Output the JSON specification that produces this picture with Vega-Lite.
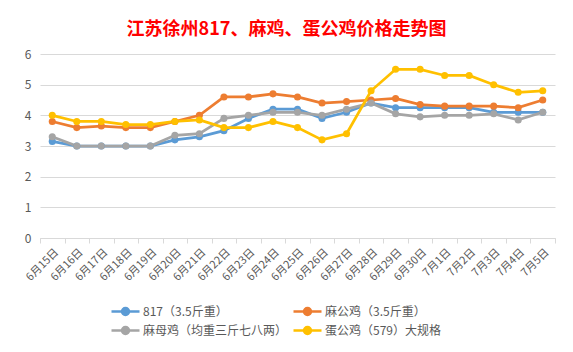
{
  "$schema": "https://vega.github.io/schema/vega-lite/v6.json",
  "autosize": {"type": "none"},
  "width": 515,
  "height": 184,
  "padding": {"left": 40, "top": 54, "right": 18, "bottom": 114},
  "background": "white",
  "title": {
    "text": "江苏徐州817、麻鸡、蛋公鸡价格走势图",
    "color": "#FF0000",
    "fontSize": 18,
    "fontWeight": "bold",
    "font": "Noto Sans CJK SC",
    "anchor": "middle",
    "dx": -11,
    "offset": 9
  },
  "config": {
    "font": "Noto Sans CJK SC",
    "view": {"stroke": null}
  },
  "data": {
    "values": [
      {"date": "6月15日", "series": "817（3.5斤重）", "value": 3.15},
      {"date": "6月16日", "series": "817（3.5斤重）", "value": 3.0},
      {"date": "6月17日", "series": "817（3.5斤重）", "value": 3.0},
      {"date": "6月18日", "series": "817（3.5斤重）", "value": 3.0},
      {"date": "6月19日", "series": "817（3.5斤重）", "value": 3.0},
      {"date": "6月20日", "series": "817（3.5斤重）", "value": 3.2},
      {"date": "6月21日", "series": "817（3.5斤重）", "value": 3.3},
      {"date": "6月22日", "series": "817（3.5斤重）", "value": 3.5},
      {"date": "6月23日", "series": "817（3.5斤重）", "value": 3.9},
      {"date": "6月24日", "series": "817（3.5斤重）", "value": 4.2},
      {"date": "6月25日", "series": "817（3.5斤重）", "value": 4.2},
      {"date": "6月26日", "series": "817（3.5斤重）", "value": 3.9},
      {"date": "6月27日", "series": "817（3.5斤重）", "value": 4.1},
      {"date": "6月28日", "series": "817（3.5斤重）", "value": 4.4},
      {"date": "6月29日", "series": "817（3.5斤重）", "value": 4.25},
      {"date": "6月30日", "series": "817（3.5斤重）", "value": 4.25},
      {"date": "7月1日", "series": "817（3.5斤重）", "value": 4.25},
      {"date": "7月2日", "series": "817（3.5斤重）", "value": 4.25},
      {"date": "7月3日", "series": "817（3.5斤重）", "value": 4.1},
      {"date": "7月4日", "series": "817（3.5斤重）", "value": 4.1},
      {"date": "7月5日", "series": "817（3.5斤重）", "value": 4.1},
      {"date": "6月15日", "series": "麻公鸡（3.5斤重）", "value": 3.8},
      {"date": "6月16日", "series": "麻公鸡（3.5斤重）", "value": 3.6},
      {"date": "6月17日", "series": "麻公鸡（3.5斤重）", "value": 3.65},
      {"date": "6月18日", "series": "麻公鸡（3.5斤重）", "value": 3.6},
      {"date": "6月19日", "series": "麻公鸡（3.5斤重）", "value": 3.6},
      {"date": "6月20日", "series": "麻公鸡（3.5斤重）", "value": 3.8},
      {"date": "6月21日", "series": "麻公鸡（3.5斤重）", "value": 4.0},
      {"date": "6月22日", "series": "麻公鸡（3.5斤重）", "value": 4.6},
      {"date": "6月23日", "series": "麻公鸡（3.5斤重）", "value": 4.6},
      {"date": "6月24日", "series": "麻公鸡（3.5斤重）", "value": 4.7},
      {"date": "6月25日", "series": "麻公鸡（3.5斤重）", "value": 4.6},
      {"date": "6月26日", "series": "麻公鸡（3.5斤重）", "value": 4.4},
      {"date": "6月27日", "series": "麻公鸡（3.5斤重）", "value": 4.45},
      {"date": "6月28日", "series": "麻公鸡（3.5斤重）", "value": 4.5},
      {"date": "6月29日", "series": "麻公鸡（3.5斤重）", "value": 4.55},
      {"date": "6月30日", "series": "麻公鸡（3.5斤重）", "value": 4.35},
      {"date": "7月1日", "series": "麻公鸡（3.5斤重）", "value": 4.3},
      {"date": "7月2日", "series": "麻公鸡（3.5斤重）", "value": 4.3},
      {"date": "7月3日", "series": "麻公鸡（3.5斤重）", "value": 4.3},
      {"date": "7月4日", "series": "麻公鸡（3.5斤重）", "value": 4.25},
      {"date": "7月5日", "series": "麻公鸡（3.5斤重）", "value": 4.5},
      {"date": "6月15日", "series": "麻母鸡（均重三斤七八两）", "value": 3.3},
      {"date": "6月16日", "series": "麻母鸡（均重三斤七八两）", "value": 3.0},
      {"date": "6月17日", "series": "麻母鸡（均重三斤七八两）", "value": 3.0},
      {"date": "6月18日", "series": "麻母鸡（均重三斤七八两）", "value": 3.0},
      {"date": "6月19日", "series": "麻母鸡（均重三斤七八两）", "value": 3.0},
      {"date": "6月20日", "series": "麻母鸡（均重三斤七八两）", "value": 3.35},
      {"date": "6月21日", "series": "麻母鸡（均重三斤七八两）", "value": 3.4},
      {"date": "6月22日", "series": "麻母鸡（均重三斤七八两）", "value": 3.9},
      {"date": "6月23日", "series": "麻母鸡（均重三斤七八两）", "value": 4.0},
      {"date": "6月24日", "series": "麻母鸡（均重三斤七八两）", "value": 4.1},
      {"date": "6月25日", "series": "麻母鸡（均重三斤七八两）", "value": 4.1},
      {"date": "6月26日", "series": "麻母鸡（均重三斤七八两）", "value": 4.0},
      {"date": "6月27日", "series": "麻母鸡（均重三斤七八两）", "value": 4.2},
      {"date": "6月28日", "series": "麻母鸡（均重三斤七八两）", "value": 4.4},
      {"date": "6月29日", "series": "麻母鸡（均重三斤七八两）", "value": 4.05},
      {"date": "6月30日", "series": "麻母鸡（均重三斤七八两）", "value": 3.95},
      {"date": "7月1日", "series": "麻母鸡（均重三斤七八两）", "value": 4.0},
      {"date": "7月2日", "series": "麻母鸡（均重三斤七八两）", "value": 4.0},
      {"date": "7月3日", "series": "麻母鸡（均重三斤七八两）", "value": 4.05},
      {"date": "7月4日", "series": "麻母鸡（均重三斤七八两）", "value": 3.85},
      {"date": "7月5日", "series": "麻母鸡（均重三斤七八两）", "value": 4.1},
      {"date": "6月15日", "series": "蛋公鸡（579）大规格", "value": 4.0},
      {"date": "6月16日", "series": "蛋公鸡（579）大规格", "value": 3.8},
      {"date": "6月17日", "series": "蛋公鸡（579）大规格", "value": 3.8},
      {"date": "6月18日", "series": "蛋公鸡（579）大规格", "value": 3.7},
      {"date": "6月19日", "series": "蛋公鸡（579）大规格", "value": 3.7},
      {"date": "6月20日", "series": "蛋公鸡（579）大规格", "value": 3.8},
      {"date": "6月21日", "series": "蛋公鸡（579）大规格", "value": 3.85},
      {"date": "6月22日", "series": "蛋公鸡（579）大规格", "value": 3.6},
      {"date": "6月23日", "series": "蛋公鸡（579）大规格", "value": 3.6},
      {"date": "6月24日", "series": "蛋公鸡（579）大规格", "value": 3.8},
      {"date": "6月25日", "series": "蛋公鸡（579）大规格", "value": 3.6},
      {"date": "6月26日", "series": "蛋公鸡（579）大规格", "value": 3.2},
      {"date": "6月27日", "series": "蛋公鸡（579）大规格", "value": 3.4},
      {"date": "6月28日", "series": "蛋公鸡（579）大规格", "value": 4.8},
      {"date": "6月29日", "series": "蛋公鸡（579）大规格", "value": 5.5},
      {"date": "6月30日", "series": "蛋公鸡（579）大规格", "value": 5.5},
      {"date": "7月1日", "series": "蛋公鸡（579）大规格", "value": 5.3},
      {"date": "7月2日", "series": "蛋公鸡（579）大规格", "value": 5.3},
      {"date": "7月3日", "series": "蛋公鸡（579）大规格", "value": 5.0},
      {"date": "7月4日", "series": "蛋公鸡（579）大规格", "value": 4.75},
      {"date": "7月5日", "series": "蛋公鸡（579）大规格", "value": 4.8}
    ]
  },
  "mark": {"type": "line", "strokeWidth": 2.75, "point": {"filled": true, "size": 50}},
  "encoding": {
    "x": {
      "field": "date",
      "type": "nominal",
      "sort": null,
      "scale": {"type": "band", "paddingInner": 0, "paddingOuter": 0},
      "axis": {
        "title": null,
        "labelAngle": -45,
        "tickBand": "extent",
        "domainColor": "#D9D9D9",
        "tickColor": "#D9D9D9",
        "tickSize": 5,
        "labelColor": "#595959",
        "labelFontSize": 11,
        "labelPadding": 3,
        "grid": false
      }
    },
    "y": {
      "field": "value",
      "type": "quantitative",
      "scale": {"domain": [0, 6], "nice": false},
      "axis": {
        "title": null,
        "values": [0, 1, 2, 3, 4, 5, 6],
        "domain": false,
        "ticks": false,
        "gridColor": "#D9D9D9",
        "labelColor": "#595959",
        "labelFontSize": 12,
        "labelPadding": 9
      }
    },
    "color": {
      "field": "series",
      "type": "nominal",
      "scale": {
        "domain": ["817（3.5斤重）", "麻公鸡（3.5斤重）", "麻母鸡（均重三斤七八两）", "蛋公鸡（579）大规格"],
        "range": ["#5B9BD5", "#ED7D31", "#A5A5A5", "#FFC000"]
      },
      "legend": {
        "title": null,
        "orient": "none",
        "direction": "horizontal",
        "legendX": 70,
        "legendY": 249,
        "columns": 2,
        "columnPadding": 0,
        "rowPadding": 2,
        "symbolType": "M-1,0L3,0M1.5,0A0.5,0.5,0,1,1,0.5,0A0.5,0.5,0,1,1,1.5,0Z",
        "symbolSize": 196,
        "symbolStrokeWidth": 2.5,
        "labelOffset": 16,
        "labelFontSize": 12,
        "labelColor": "#595959",
        "labelLimit": 300,
        "encode": {
          "symbols": {
            "update": {
              "fill": {"scale": "color", "field": "value"},
              "stroke": {"scale": "color", "field": "value"}
            }
          }
        }
      }
    }
  }
}
